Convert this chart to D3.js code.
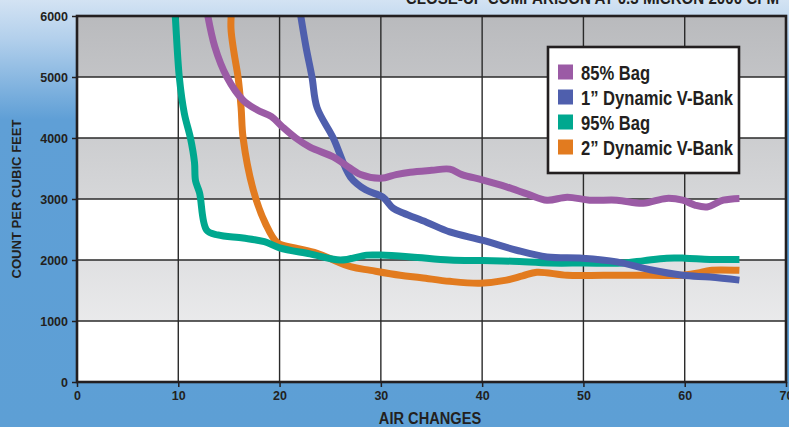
<!DOCTYPE html>
<html><head><meta charset="utf-8">
<script src="https://cdn.jsdelivr.net/npm/d3@7"></script>
<style>html,body{margin:0;padding:0;overflow:hidden;}svg{display:block;}</style>
</head><body>
<script>
const title = "CLOSE-UP COMPARISON AT 0.3 MICRON 2000 CFM";
const xLabel = "AIR CHANGES";
const yLabel = "COUNT PER CUBIC FEET";
const xTicks = [0,10,20,30,40,50,60,70];
const yTicks = [0,1000,2000,3000,4000,5000,6000];
const seriesNames = ["85% Bag","1\u201D Dynamic V-Bank","95% Bag","2\u201D Dynamic V-Bank"];
const seriesColors = ["#9b5ba5","#4f5fad","#00a88f","#e27b1f"];

const bag85X = [12.7,13.6,14.8,16.4,17.8,19.2,20.3,21.6,23,25.3,26.5,28,30,31.5,32.9,35,36.8,38,40.1,42.4,44.5,46.4,48.4,50.6,53.3,55.9,58.2,59.8,61,62.2,63.8,65.4];
const bag85Y = [6200,5500,5000,4620,4460,4350,4180,4000,3850,3690,3560,3400,3340,3400,3440,3470,3490,3400,3310,3200,3080,2980,3030,2980,2980,2930,3010,2980,2900,2870,2980,3010];
const vbank1X = [21.9,22.6,23.2,23.7,25.3,27,28.5,30.2,31.2,32.2,34.5,36.8,40.1,43.4,46.4,49.9,53.3,56.6,59.8,62.5,65.4];
const vbank1Y = [6200,5500,5000,4500,4000,3360,3150,3030,2850,2770,2620,2460,2320,2160,2050,2030,1970,1840,1750,1720,1670];
const bag95X = [9.6,9.7,10.1,10.6,11.2,11.6,11.7,12.1,12.8,13.9,16.4,18.5,20,23,26,28.6,30,33,36.8,40,43,46.7,50,53.9,56,58.2,60,62.5,65.4];
const bag95Y = [6200,6000,5000,4400,4000,3600,3300,3100,2490,2410,2360,2300,2200,2100,2000,2080,2080,2050,2000,1990,1980,1950,1950,1950,1990,2030,2030,2010,2010];
const vbank2X = [15.3,15.2,15.5,15.9,16.2,16.4,17.4,18.6,19.8,21.5,23.7,27,29,31.9,34,36.8,39.8,42.4,44,45.4,48.4,52,56.6,59.8,61.5,62.5,65.4];
const vbank2Y = [6200,5800,5400,5000,4500,4000,3150,2600,2280,2200,2110,1890,1830,1750,1710,1650,1620,1670,1740,1800,1750,1750,1750,1750,1790,1830,1830];

const W = 789, H = 427;
const svg = d3.select("body").append("svg").attr("width",W).attr("height",H);
const defs = svg.append("defs");
const SANS = "'Liberation Sans',Arial,sans-serif";

const bg = defs.append("linearGradient").attr("id","bg").attr("x1",0).attr("y1",0).attr("x2",0).attr("y2",1);
bg.append("stop").attr("offset","0%").attr("stop-color","#d3e3f3");
bg.append("stop").attr("offset","9%").attr("stop-color","#b3d0ec");
bg.append("stop").attr("offset","28%").attr("stop-color","#5f9fd6");
bg.append("stop").attr("offset","100%").attr("stop-color","#5d9fd5");
svg.append("rect").attr("width",W).attr("height",H).attr("fill","url(#bg)");

const m = {l:77, r:786, t:16, b:382};
const x = d3.scaleLinear().domain([0,70]).range([m.l,m.r]);
const y = d3.scaleLinear().domain([0,6000]).range([m.b,m.t]);

const gg = defs.append("linearGradient").attr("id","gray").attr("gradientUnits","userSpaceOnUse")
  .attr("x1",0).attr("y1",m.t).attr("x2",0).attr("y2",m.b);
gg.append("stop").attr("offset","0%").attr("stop-color","#b9babd");
gg.append("stop").attr("offset","50%").attr("stop-color","#d6d7d9");
gg.append("stop").attr("offset","100%").attr("stop-color","#f3f3f4");

defs.append("clipPath").attr("id","clip").append("rect")
  .attr("x",m.l).attr("y",m.t).attr("width",m.r-m.l).attr("height",m.b-m.t);

svg.append("rect").attr("x",m.l).attr("y",m.t).attr("width",m.r-m.l).attr("height",m.b-m.t).attr("fill","url(#gray)");
[0,2000,4000].forEach(v=>{
  svg.append("rect").attr("x",m.l).attr("y",y(v+1000)).attr("width",m.r-m.l).attr("height",y(v)-y(v+1000)).attr("fill","#ffffff");
});

const grid = svg.append("g").attr("stroke","#2a2a2a").attr("stroke-width",1.4);
yTicks.forEach(v=>grid.append("line").attr("x1",m.l).attr("x2",m.r).attr("y1",y(v)).attr("y2",y(v)));
xTicks.forEach(v=>grid.append("line").attr("y1",m.t).attr("y2",m.b).attr("x1",x(v)).attr("x2",x(v)));

const data = [[bag85X,bag85Y],[vbank1X,vbank1Y],[bag95X,bag95Y],[vbank2X,vbank2Y]];
const line = d3.line().x(d=>x(d[0])).y(d=>y(d[1])).curve(d3.curveCatmullRom.alpha(0.5));
const lg = svg.append("g").attr("clip-path","url(#clip)");
[3,2,1,0].forEach(i=>{
  const pts = data[i][0].map((v,j)=>[v,data[i][1][j]]);
  lg.append("path").attr("d",line(pts)).attr("fill","none").attr("stroke",seriesColors[i])
    .attr("stroke-width",7).attr("stroke-linejoin","round");
});

svg.append("rect").attr("x",m.l).attr("y",m.t).attr("width",m.r-m.l).attr("height",m.b-m.t)
  .attr("fill","none").attr("stroke","#231f20").attr("stroke-width",2.6);

const yAxis = svg.append("g").attr("transform",`translate(${m.l},0)`)
  .call(d3.axisLeft(y).tickValues(yTicks).tickSize(5).tickFormat(d3.format("d")));
const xAxis = svg.append("g").attr("transform",`translate(0,${m.b})`)
  .call(d3.axisBottom(x).tickValues(xTicks).tickSize(5).tickFormat(d3.format("d")));
[yAxis,xAxis].forEach(a=>{
  a.select(".domain").remove();
  a.selectAll("line").attr("stroke","#231f20").attr("stroke-width",1.5);
  a.selectAll("text").attr("fill","#231f20").attr("font-family",SANS)
   .attr("font-weight","bold").attr("font-size",12.5);
});
yAxis.selectAll("text").attr("x",-9);
xAxis.selectAll("text").attr("y",9);

// condensed text helper
function ctext(parent, tx, ty, sx, size, anchor, str, rot){
  const g = parent.append("g").attr("transform",`translate(${tx},${ty})${rot?` rotate(${rot})`:""} scale(${sx},1)`);
  return g.append("text").attr("x",0).attr("y",0).attr("text-anchor",anchor).attr("fill","#231f20")
    .attr("font-family",SANS).attr("font-weight","bold").attr("font-size",size).text(str);
}

ctext(svg, 21, 199, 0.97, 13.5, "middle", yLabel, -90);
ctext(svg, 430, 424, 0.86, 17, "middle", xLabel);
ctext(svg, 779, 4, 0.89, 17, "end", title);

const leg = svg.append("g");
leg.append("rect").attr("x",548).attr("y",47).attr("width",191).attr("height",126)
  .attr("fill","#ffffff").attr("stroke","#231f20").attr("stroke-width",2.6);
seriesNames.forEach((n,i)=>{
  const cy = 72 + i*25;
  leg.append("rect").attr("x",558).attr("y",cy-7.5).attr("width",15).attr("height",15).attr("fill",seriesColors[i]);
  ctext(leg, 581, cy+7.5, 0.79, 21, "start", n);
});
</script>
</body></html>
